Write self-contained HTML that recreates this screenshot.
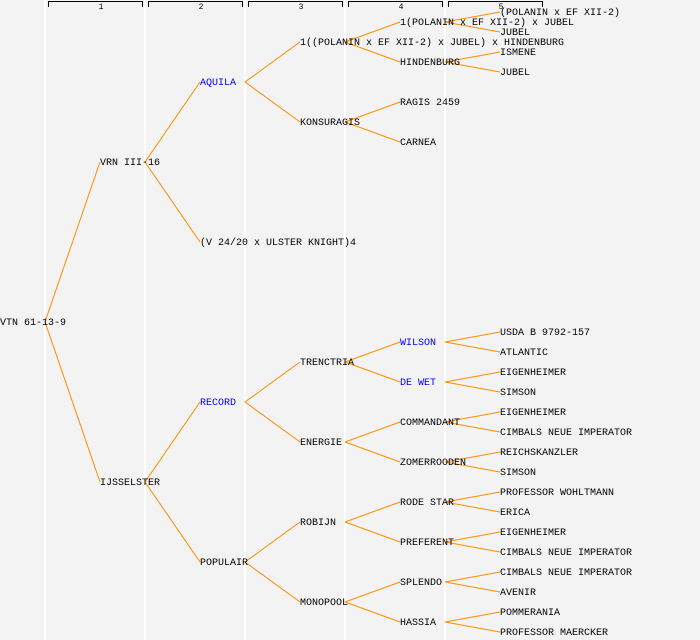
<!DOCTYPE html>
<html><head><meta charset="utf-8"><style>
html,body{margin:0;padding:0;background:#f3f3f3;}
svg{display:block;}
text{font-family:"Liberation Mono",monospace;font-size:10px;fill:#000;}
.b{fill:#0000ff;}
.h{font-size:8px;}
line.e{stroke:#ff8c00;stroke-width:1;}
</style></head><body>
<svg width="700" height="640" xmlns="http://www.w3.org/2000/svg">
<rect width="700" height="640" fill="#f3f3f3"/>
<g fill="#ffffff">
<rect x="44" y="0" width="2" height="640"/><rect x="144" y="0" width="2" height="640"/>
<rect x="244" y="0" width="2" height="640"/><rect x="344" y="0" width="2" height="640"/>
<rect x="444" y="0" width="2" height="640"/>
</g>
<g stroke="#000" stroke-width="1" fill="none">
<path d="M48.5,7V1.5H142.5V7"/><path d="M148.5,7V1.5H242.5V7"/><path d="M248.5,7V1.5H342.5V7"/>
<path d="M348.5,7V1.5H442.5V7"/><path d="M448.5,7V1.5H542.5V7"/>
</g>
<text class="h" x="101" y="9" text-anchor="middle">1</text>
<text class="h" x="201" y="9" text-anchor="middle">2</text>
<text class="h" x="301" y="9" text-anchor="middle">3</text>
<text class="h" x="401" y="9" text-anchor="middle">4</text>
<text class="h" x="501" y="9" text-anchor="middle">5</text>
<g>
<line class="e" x1="45" y1="322" x2="100" y2="162"/><line class="e" x1="45" y1="322" x2="100" y2="482"/>
<line class="e" x1="145" y1="162" x2="200" y2="82"/><line class="e" x1="145" y1="162" x2="200" y2="242"/>
<line class="e" x1="245" y1="82" x2="300" y2="42"/><line class="e" x1="245" y1="82" x2="300" y2="122"/>
<line class="e" x1="345" y1="42" x2="400" y2="22"/><line class="e" x1="345" y1="42" x2="400" y2="62"/>
<line class="e" x1="445" y1="22" x2="500" y2="12"/><line class="e" x1="445" y1="22" x2="500" y2="32"/>
<line class="e" x1="445" y1="62" x2="500" y2="52"/><line class="e" x1="445" y1="62" x2="500" y2="72"/>
<line class="e" x1="345" y1="122" x2="400" y2="102"/><line class="e" x1="345" y1="122" x2="400" y2="142"/>
<line class="e" x1="145" y1="482" x2="200" y2="402"/><line class="e" x1="145" y1="482" x2="200" y2="562"/>
<line class="e" x1="245" y1="402" x2="300" y2="362"/><line class="e" x1="245" y1="402" x2="300" y2="442"/>
<line class="e" x1="245" y1="562" x2="300" y2="522"/><line class="e" x1="245" y1="562" x2="300" y2="602"/>
<line class="e" x1="345" y1="362" x2="400" y2="342"/><line class="e" x1="345" y1="362" x2="400" y2="382"/>
<line class="e" x1="345" y1="442" x2="400" y2="422"/><line class="e" x1="345" y1="442" x2="400" y2="462"/>
<line class="e" x1="345" y1="522" x2="400" y2="502"/><line class="e" x1="345" y1="522" x2="400" y2="542"/>
<line class="e" x1="345" y1="602" x2="400" y2="582"/><line class="e" x1="345" y1="602" x2="400" y2="622"/>
<line class="e" x1="445" y1="342" x2="500" y2="332"/><line class="e" x1="445" y1="342" x2="500" y2="352"/>
<line class="e" x1="445" y1="382" x2="500" y2="372"/><line class="e" x1="445" y1="382" x2="500" y2="392"/>
<line class="e" x1="445" y1="422" x2="500" y2="412"/><line class="e" x1="445" y1="422" x2="500" y2="432"/>
<line class="e" x1="445" y1="462" x2="500" y2="452"/><line class="e" x1="445" y1="462" x2="500" y2="472"/>
<line class="e" x1="445" y1="502" x2="500" y2="492"/><line class="e" x1="445" y1="502" x2="500" y2="512"/>
<line class="e" x1="445" y1="542" x2="500" y2="532"/><line class="e" x1="445" y1="542" x2="500" y2="552"/>
<line class="e" x1="445" y1="582" x2="500" y2="572"/><line class="e" x1="445" y1="582" x2="500" y2="592"/>
<line class="e" x1="445" y1="622" x2="500" y2="612"/><line class="e" x1="445" y1="622" x2="500" y2="632"/>
</g>
<g transform="translate(0,-1)">
<text x="0" y="326">VTN 61-13-9</text>
<text x="100" y="166">VRN III-16</text>
<text x="100" y="486">IJSSELSTER</text>
<text class="b" x="200" y="86">AQUILA</text>
<text x="200" y="246">(V 24/20 x ULSTER KNIGHT)4</text>
<text class="b" x="200" y="406">RECORD</text>
<text x="200" y="566">POPULAIR</text>
<text x="300" y="46">1((POLANIN x EF XII-2) x JUBEL) x HINDENBURG</text>
<text x="300" y="126">KONSURAGIS</text>
<text x="300" y="366">TRENCTRIA</text>
<text x="300" y="446">ENERGIE</text>
<text x="300" y="526">ROBIJN</text>
<text x="300" y="606">MONOPOOL</text>
<text x="400" y="26">1(POLANIN x EF XII-2) x JUBEL</text>
<text x="400" y="66">HINDENBURG</text>
<text x="400" y="106">RAGIS 2459</text>
<text x="400" y="146">CARNEA</text>
<text class="b" x="400" y="346">WILSON</text>
<text class="b" x="400" y="386">DE WET</text>
<text x="400" y="426">COMMANDANT</text>
<text x="400" y="466">ZOMERROODEN</text>
<text x="400" y="506">RODE STAR</text>
<text x="400" y="546">PREFERENT</text>
<text x="400" y="586">SPLENDO</text>
<text x="400" y="626">HASSIA</text>
<text x="500" y="16">(POLANIN x EF XII-2)</text>
<text x="500" y="36">JUBEL</text>
<text x="500" y="56">ISMENE</text>
<text x="500" y="76">JUBEL</text>
<text x="500" y="336">USDA B 9792-157</text>
<text x="500" y="356">ATLANTIC</text>
<text x="500" y="376">EIGENHEIMER</text>
<text x="500" y="396">SIMSON</text>
<text x="500" y="416">EIGENHEIMER</text>
<text x="500" y="436">CIMBALS NEUE IMPERATOR</text>
<text x="500" y="456">REICHSKANZLER</text>
<text x="500" y="476">SIMSON</text>
<text x="500" y="496">PROFESSOR WOHLTMANN</text>
<text x="500" y="516">ERICA</text>
<text x="500" y="536">EIGENHEIMER</text>
<text x="500" y="556">CIMBALS NEUE IMPERATOR</text>
<text x="500" y="576">CIMBALS NEUE IMPERATOR</text>
<text x="500" y="596">AVENIR</text>
<text x="500" y="616">POMMERANIA</text>
<text x="500" y="636">PROFESSOR MAERCKER</text>
</g>
</svg>
</body></html>
